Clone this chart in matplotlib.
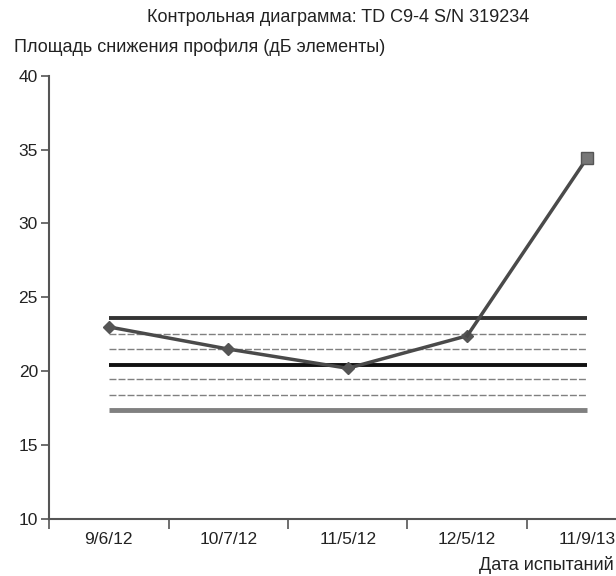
import numpy as np
import matplotlib.pyplot as plt

plt.rcParams['font.family'] = ['Liberation Sans', 'DejaVu Sans']

# data
dates = ['9/6/12', '10/7/12', '11/5/12', '12/5/12', '11/9/13']
values = [23.0, 21.5, 20.2, 22.4, 34.4]

# control limits: UCL, +2s, +1s, centre, -1s, -2s, LCL
ucl = 23.6
plus2 = 22.5
plus1 = 21.5
centre = 20.45
minus1 = 19.45
minus2 = 18.4
lcl = 17.35


def main():
    fig = plt.figure(figsize=(6.16, 5.76), dpi=100)
    # axes runs past the right edge of the figure, like the reference crop
    ax = fig.add_axes([49 / 616, 57 / 576, 597.5 / 616, 443.3 / 576])

    x = np.arange(len(dates))
    x0, x1 = x[0], x[-1]

    # limit lines
    ax.hlines(ucl, x0, x1, color='#333333', lw=2.8, zorder=2)
    ax.hlines(centre, x0, x1, color='#111111', lw=2.8, zorder=2)
    ax.hlines(lcl, x0, x1, color='#808080', lw=3.5, zorder=2)
    for v in [plus2, plus1, minus1, minus2]:
        ax.hlines(v, x0, x1, color='#808080', lw=1.0, linestyles=(0, (5, 1.5)), zorder=2)

    # measured values
    ax.plot(x[:-1], values[:-1], color='#4a4a4a', lw=2.5, marker='D', ms=6.5,
            mfc='#555555', mec='#555555', zorder=3)
    ax.plot(x[-2:], values[-2:], color='#4a4a4a', lw=2.5, zorder=3)
    ax.plot(x[-1], values[-1], marker='s', ms=9, color='#777777', mec='#555555', zorder=4)

    ax.set_xlim(-0.5, 4.5)
    ax.set_ylim(10, 40)
    ax.set_yticks(np.arange(10, 41, 5))
    ax.set_xticks(x)
    ax.set_xticklabels(dates)
    ax.set_xticks(np.arange(-0.5, 5, 1), minor=True)

    for s in ['top', 'right']:
        ax.spines[s].set_visible(False)
    for s in ['left', 'bottom']:
        ax.spines[s].set_color('#555555')
        ax.spines[s].set_linewidth(1.5)

    ax.tick_params(axis='y', length=6, width=1.2, color='#555555', labelsize=12.5,
                   labelcolor='#222222', pad=2)
    ax.tick_params(axis='x', which='major', length=0, labelsize=12.5,
                   labelcolor='#222222', pad=9)
    ax.tick_params(axis='x', which='minor', length=7, width=1.2, color='#555555')

    fig.text(338 / 616, 1 - 18 / 576, 'Контрольная диаграмма: TD C9-4 S/N 319234',
             ha='center', va='center', fontsize=13, color='#222222')
    fig.text(14 / 616, 1 - 47 / 576, 'Площадь снижения профиля (дБ элементы)',
             ha='left', va='center', fontsize=13, color='#222222')
    fig.text(614 / 616, 1 - 565 / 576, 'Дата испытаний',
             ha='right', va='center', fontsize=13, color='#222222')

    fig.savefig('out.png', dpi=100)


if __name__ == "__main__":
    main()
